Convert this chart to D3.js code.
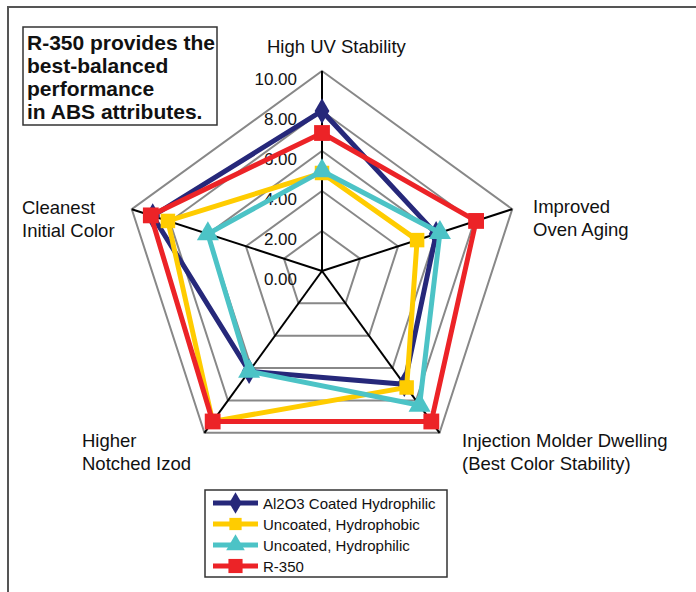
<!DOCTYPE html>
<html><head><meta charset="utf-8">
<script src="https://cdn.jsdelivr.net/npm/d3@7"></script>
<style>body{margin:0;background:#fff}svg{display:block;font-family:"Liberation Sans",Arial,sans-serif}</style>
</head><body><svg id="c" width="696" height="592"></svg>
<script>
const axes = ["High UV Stability","Improved Oven Aging","Injection Molder Dwelling (Best Color Stability)","Higher Notched Izod","Cleanest Initial Color"];
const seriesNames = ["Al2O3 Coated Hydrophilic","Uncoated, Hydrophobic","Uncoated, Hydrophilic","R-350"];
const al2o3 = [8.0, 6.0, 7.0, 6.2, 8.9];
const hydrophobic = [4.9, 5.0, 7.2, 9.3, 8.1];
const hydrophilic = [5.0, 6.2, 8.3, 6.2, 6.0];
const r350 = [6.9, 8.1, 9.3, 9.3, 9.0];
const ticks = [0,2,4,6,8,10];
const tickLabels = ["0.00","2.00","4.00","6.00","8.00","10.00"];
const colors = ["#26287a","#ffcc00","#4cc3c6","#ec2327"];
const symbols = ["diamond","square","triangle","square"];

const svg = d3.select("#c");
const cx = 322, cy = 271;
const r = d3.scaleLinear().domain([0,10]).range([0,200]);
const ang = i => i*2*Math.PI/5;
const pt = (i,v) => [cx + r(v)*Math.sin(ang(i)), cy - r(v)*Math.cos(ang(i))];

// frame
svg.append("rect").attr("x",8).attr("y",7).attr("width",700).attr("height",600).attr("fill","none").attr("stroke","#555").attr("stroke-width",2);

// grid
const line = d3.line();
ticks.slice(1).forEach(t=>{
  const pts = d3.range(5).map(i=>pt(i,t));
  svg.append("path").attr("d",line(pts)+"Z").attr("fill","none").attr("stroke","#888").attr("stroke-width",2);
});
d3.range(5).forEach(i=>{
  const p = pt(i,10);
  svg.append("line").attr("x1",cx).attr("y1",cy).attr("x2",p[0]).attr("y2",p[1]).attr("stroke","#000").attr("stroke-width",2);
});
// tick labels
ticks.forEach((t,k)=>{
  svg.append("text").attr("x",297).attr("y",cy - r(t)+13.5).attr("text-anchor","end")
    .attr("font-size",17).attr("fill","#111").text(tickLabels[k]);
});

// series
const data = [al2o3, hydrophobic, hydrophilic, r350];
const symGen = (k,size)=>{
  if(symbols[k]==="diamond") return d3.symbol().type(d3.symbolDiamond).size(size*0.9)();
  if(symbols[k]==="triangle") return d3.symbol().type(d3.symbolTriangle).size(size)();
  return d3.symbol().type(d3.symbolSquare).size(size)();
};
data.forEach((vals,k)=>{
  const pts = vals.map((v,i)=>pt(i,v));
  svg.append("path").attr("d",line(pts)+"Z").attr("fill","none").attr("stroke",colors[k]).attr("stroke-width",5).attr("stroke-linejoin","miter");
  pts.forEach(p=>{
    svg.append("path").attr("d",symGen(k,k===3?250:210)).attr("transform",`translate(${p[0]},${p[1]})`).attr("fill",colors[k]);
  });
});

// axis labels
const lab = [
  {x:267,y:53,a:"start",t:["High UV Stability"]},
  {x:533,y:213,a:"start",t:["Improved","Oven Aging"]},
  {x:462,y:447,a:"start",t:["Injection Molder Dwelling","(Best Color Stability)"]},
  {x:82,y:447,a:"start",t:["Higher","Notched Izod"]},
  {x:22,y:214,a:"start",t:["Cleanest","Initial Color"]}
];
lab.forEach(l=>{
  const te = svg.append("text").attr("font-size",18.5).attr("fill","#111").attr("text-anchor",l.a);
  l.t.forEach((s,j)=>te.append("tspan").attr("x",l.x).attr("y",l.y+j*23).text(s));
});

// title box
svg.append("rect").attr("x",23).attr("y",27).attr("width",194).attr("height",98).attr("fill","#fff").attr("stroke","#333").attr("stroke-width",1.5);
const title = ["R-350 provides the","best-balanced","performance","in ABS attributes."];
const tt = svg.append("text").attr("font-size",21).attr("font-weight","bold").attr("fill","#111");
title.forEach((s,j)=>tt.append("tspan").attr("x",27).attr("y",50+j*23).text(s));

// legend
svg.append("rect").attr("x",205).attr("y",490).attr("width",242).attr("height",87).attr("fill","#fff").attr("stroke","#333").attr("stroke-width",1.5);
seriesNames.forEach((n,k)=>{
  const y = 503 + k*21;
  svg.append("line").attr("x1",213).attr("x2",258).attr("y1",y).attr("y2",y).attr("stroke",colors[k]).attr("stroke-width",5);
  svg.append("path").attr("d",symGen(k,k===3?200:150)).attr("transform",`translate(235.5,${y})`).attr("fill",colors[k]);
  svg.append("text").attr("x",263).attr("y",y+5.5).attr("font-size",15).attr("fill","#111").text(n);
});
</script></body></html>
